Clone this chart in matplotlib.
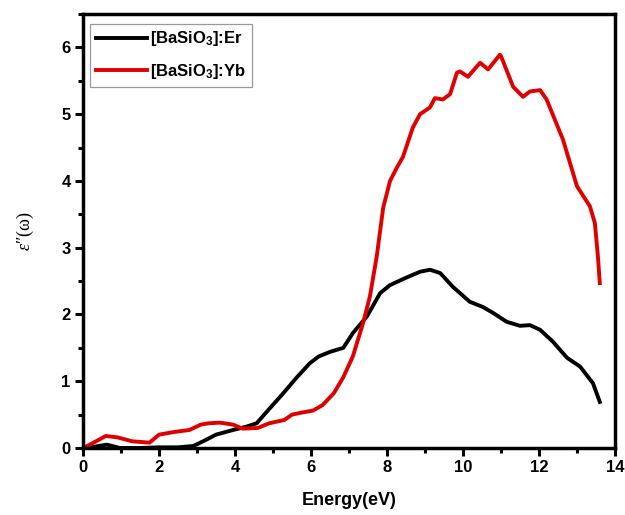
import matplotlib
matplotlib.use("Agg")
import matplotlib.pyplot as plt
from matplotlib.ticker import MultipleLocator

plt.rcParams["font.family"] = ["Liberation Sans", "DejaVu Sans"]
plt.rcParams["mathtext.fontset"] = "custom"
plt.rcParams["mathtext.rm"] = "Liberation Sans"
plt.rcParams["mathtext.bf"] = "Liberation Sans:bold"
plt.rcParams["mathtext.it"] = "Liberation Serif:italic"

# Data
er_x = [0.0, 0.3, 0.63, 0.97, 1.5, 2.0, 2.5, 2.9, 3.16, 3.5, 3.95, 4.3, 4.57, 4.8, 5.27, 5.63,
        5.97, 6.2, 6.5, 6.85, 7.1, 7.47, 7.82, 8.08, 8.5, 8.87, 9.13, 9.4, 9.74, 10.18, 10.53,
        10.8, 11.15, 11.5, 11.76, 12.03, 12.37, 12.74, 13.08, 13.42, 13.6]
er_y = [0.0, 0.02, 0.05, 0.0, 0.0, 0.01, 0.01, 0.03, 0.1, 0.2, 0.27, 0.32, 0.37, 0.52, 0.82, 1.06,
        1.27, 1.37, 1.44, 1.5, 1.72, 1.97, 2.32, 2.44, 2.55, 2.64, 2.67, 2.62, 2.41, 2.19, 2.11,
        2.02, 1.89, 1.83, 1.84, 1.77, 1.59, 1.35, 1.22, 0.97, 0.69]

yb_x = [0.0, 0.18, 0.6, 0.9, 1.3, 1.75, 2.0, 2.4, 2.8, 3.1, 3.3, 3.6, 3.95, 4.2, 4.6, 4.9, 5.3,
        5.5, 5.75, 6.05, 6.3, 6.6, 6.85, 7.1, 7.37, 7.55, 7.73, 7.9, 8.08, 8.26, 8.42, 8.68,
        8.87, 9.13, 9.26, 9.47, 9.66, 9.84, 9.92, 10.13, 10.45, 10.66, 10.97, 11.0, 11.32,
        11.58, 11.76, 12.03, 12.2, 12.63, 13.0, 13.34, 13.47, 13.55, 13.6]
yb_y = [0.0, 0.05, 0.18, 0.16, 0.1, 0.08, 0.2, 0.24, 0.27, 0.35, 0.37, 0.38, 0.35, 0.29, 0.3,
        0.37, 0.42, 0.5, 0.53, 0.56, 0.64, 0.82, 1.06, 1.37, 1.87, 2.27, 2.87, 3.6, 4.0, 4.2,
        4.36, 4.8, 5.0, 5.1, 5.24, 5.22, 5.3, 5.62, 5.64, 5.56, 5.77, 5.67, 5.89, 5.87, 5.41,
        5.26, 5.34, 5.36, 5.22, 4.62, 3.92, 3.62, 3.37, 2.87, 2.47]

labels = ["[BaSiO$_\\mathbf{3}$]:Er", "[BaSiO$_\\mathbf{3}$]:Yb"]

fig = plt.figure(figsize=(6.25, 5.15), dpi=100)
ax = fig.add_axes([0.1328, 0.1301, 0.8512, 0.8427])

ax.plot(er_x, er_y, color="black", lw=2.8, label=labels[0], solid_joinstyle="round")
ax.plot(yb_x, yb_y, color="#e00000", lw=2.8, label=labels[1], solid_joinstyle="round")

ax.set_xlim(0, 14)
ax.set_ylim(0, 6.5)
ax.xaxis.set_major_locator(MultipleLocator(2))
ax.xaxis.set_minor_locator(MultipleLocator(1))
ax.yaxis.set_major_locator(MultipleLocator(1))
ax.yaxis.set_minor_locator(MultipleLocator(0.5))

for s in ax.spines.values():
    s.set_linewidth(2.5)
ax.tick_params(which="major", direction="out", length=6, width=2.2, labelsize=12, pad=3)
ax.tick_params(which="minor", direction="out", length=3.5, width=2.2)
for lab in ax.get_xticklabels() + ax.get_yticklabels():
    lab.set_fontweight("bold")

ax.set_xlabel("Energy(eV)", fontsize=13, fontweight="bold", labelpad=12)
ax.set_ylabel("$\\varepsilon$\u2033(\u03c9)", fontsize=13, family=["Liberation Serif", "DejaVu Serif"],
              labelpad=18)

leg = ax.legend(loc="upper left", prop={"weight": "bold", "size": 12}, fancybox=False,
                edgecolor="#808080", handlelength=3.1, handletextpad=0.15, borderpad=0.35,
                bbox_to_anchor=(-0.003, 0.997), labelspacing=0.8)
leg.get_frame().set_linewidth(0.9)

fig.savefig("out.png", dpi=100, facecolor="white")
